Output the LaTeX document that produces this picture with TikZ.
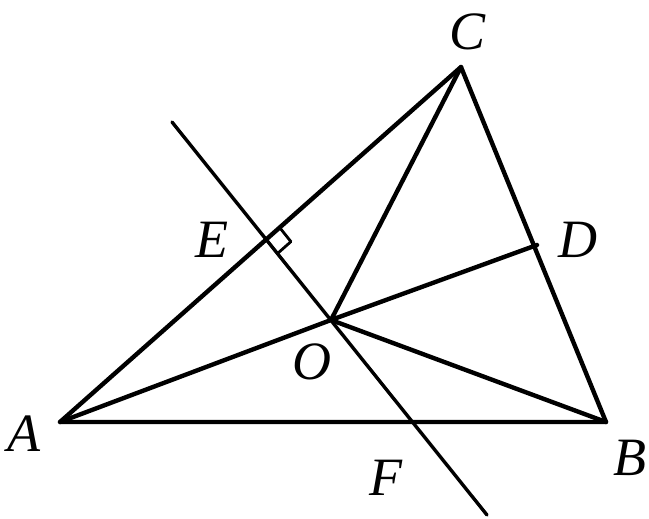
\documentclass[tikz,border=0pt]{standalone}
\usepackage{fontspec}
\setmainfont{Liberation Serif}
\usetikzlibrary{calc,intersections}
\begin{document}
\begin{tikzpicture}[x=1pt,y=-1pt,line width=4.4pt,line cap=round,line join=round,
  lbl/.style={font=\fontsize{54}{54}\selectfont\itshape,inner sep=0pt}]
\useasboundingbox (0,0) rectangle (649,519);
\coordinate (A) at (60,422);
\coordinate (B) at (606,422);
\coordinate (C) at (461,67);
\coordinate (O) at (331,320);
\coordinate (D) at (537,245);
\coordinate (P) at (172,122);
\coordinate (Q) at (487,515);
\coordinate (E) at (266.2,239.5);
\draw (A) -- (B) -- (C) -- cycle;
\draw[line width=3.4pt] (P) -- (Q);
\draw (A) -- (O) -- (B);
\draw (O) -- (C);
\draw (O) -- (D);
\draw[line width=2.8pt] ($(E)!18pt!(C)$) -- ($(E)!18pt!(C)+(E)!18pt!(Q)-(E)$) -- ($(E)!18pt!(Q)$);
\node[lbl] (lC) at (468,32) {C};
\node[lbl] (lE) at (212,240) {E};
\node[lbl] (lD) at (578,240) {D};
\node[lbl] (lO) at (312,362) {O};
\node[lbl] (lA) at (24,434) {A};
\node[lbl] (lB) at (630,458) {B};
\node[lbl] (lF) at (386,478) {F};
\end{tikzpicture}
\end{document}
